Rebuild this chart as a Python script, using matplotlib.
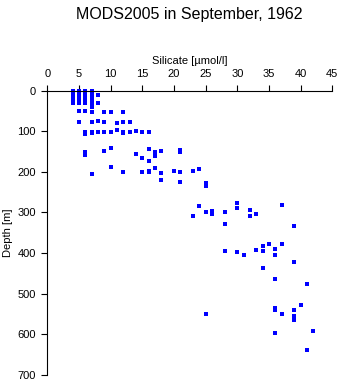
import matplotlib
matplotlib.use('Agg')
import matplotlib.pyplot as plt

plt.rcParams['font.family'] = ['Liberation Sans', 'DejaVu Sans']

# silicate values (umol/l) and matching depths (m), read column by column
silicate = ([4] * 4 + [5] * 8 + [6] * 9 + [7] * 12 + [8] * 4 + [9] * 4 + [10] * 4
            + [11] * 2 + [12] * 5 + [13] * 2 + [14] * 2 + [15] * 3 + [16] * 5
            + [17] * 3 + [18] * 3 + [20] + [21] * 4 + [23] * 2 + [24] * 2
            + [25] * 4 + [26] * 2 + [28] * 3 + [30] * 3 + [31] + [32] * 2
            + [33] * 2 + [34] * 3 + [35] + [36] * 6 + [37] * 3 + [39] * 5
            + [40] + [41] * 2 + [42])
depth = [0, 11, 21, 31,
         0, 11, 16, 21, 26, 31, 51, 77,
         0, 11, 21, 31, 51, 102, 106, 150, 159,
         0, 11, 18, 23, 30, 34, 39, 52, 76, 101, 105, 205,
         11, 31, 75, 101,
         52, 77, 102, 148,
         52, 102, 141, 188,
         79, 98,
         52, 77, 101, 105, 200,
         77, 102,
         100, 155,
         102, 166, 200,
         102, 144, 174, 197, 201,
         150, 162, 191,
         148, 202, 219,
         198,
         147, 151, 200, 224,
         197, 310,
         193, 285,
         227, 236, 298, 551,
         296, 305,
         298, 329, 395,
         276, 288, 397,
         404,
         294, 310,
         305, 393,
         384, 396, 437,
         377,
         391, 404, 464, 536, 541, 598,
         281, 379, 551,
         334, 422, 541, 556, 566,
         529,
         476, 640,
         593]

xticks = list(range(0, 50, 5))
yticks = list(range(0, 800, 100))

fig = plt.figure(figsize=(3.41, 3.84), dpi=100)
ax = fig.add_axes([0.1387, 0.0242, 0.8358, 0.7396])

ax.plot(silicate, depth, 's', color='#0000ff', markersize=2.2,
        markeredgewidth=0, snap=False, clip_on=False)

ax.set_xlim(0, 45)
ax.set_ylim(700, 0)
ax.set_xticks(xticks)
ax.set_yticks(yticks)
ax.xaxis.tick_top()
ax.xaxis.set_label_position('top')
ax.tick_params(direction='out', length=4.3, width=0.8, labelsize=8, pad=4,
               colors='black')
ax.spines['right'].set_visible(False)
ax.spines['bottom'].set_visible(False)
for s in ('top', 'left'):
    ax.spines[s].set_linewidth(0.8)

ax.set_xlabel('Silicate [\u00b5mol/l]', fontsize=8, labelpad=4)
ax.set_ylabel('Depth [m]', fontsize=8, labelpad=3)
fig.text(0.5557, 0.961, 'MODS2005 in September, 1962', ha='center',
         va='center', fontsize=11.5)

fig.savefig('out.png', dpi=100)
